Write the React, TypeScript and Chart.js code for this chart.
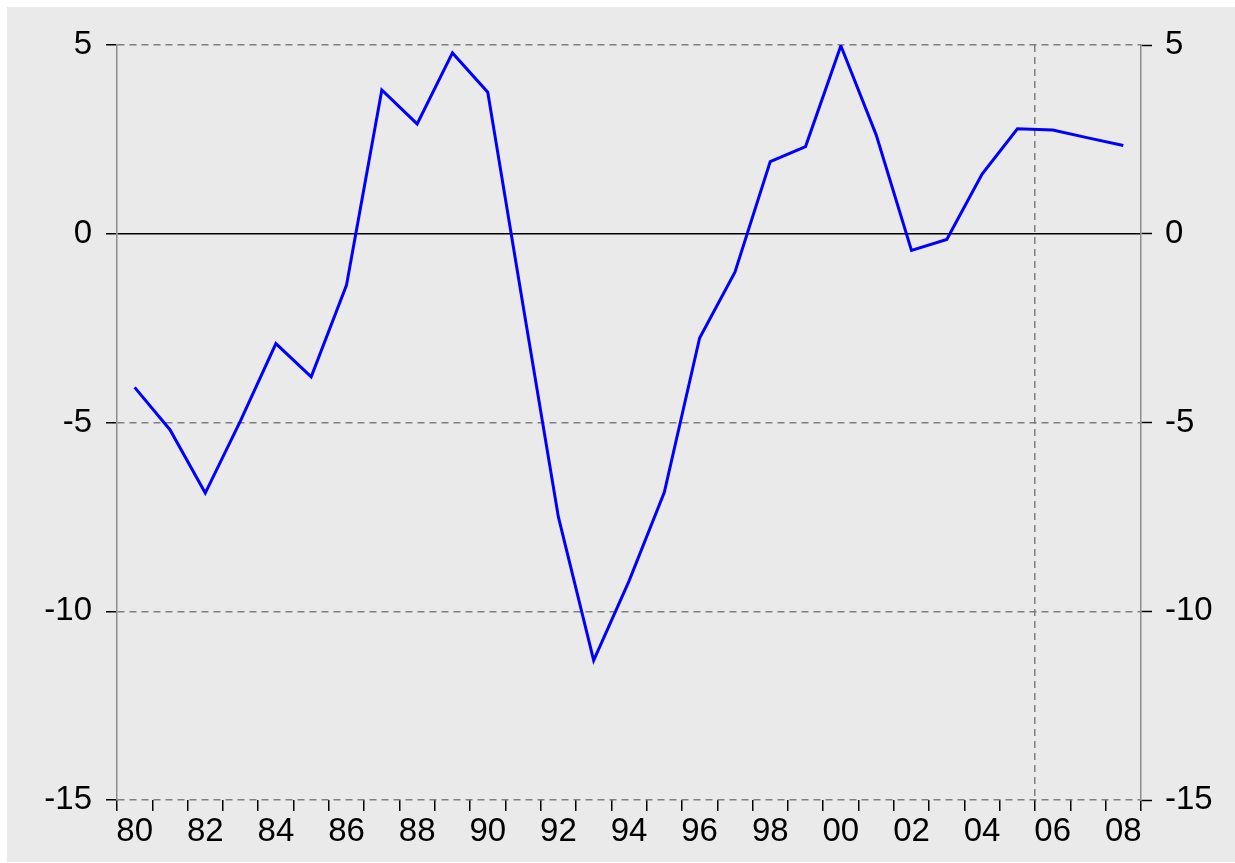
import React, { useEffect, useRef } from 'react';
import { Chart, registerables } from 'chart.js';

Chart.register(...registerables);

const yearLabels = [
  '80', '81', '82', '83', '84', '85', '86', '87', '88', '89',
  '90', '91', '92', '93', '94', '95', '96', '97', '98', '99',
  '00', '01', '02', '03', '04', '05', '06', '07', '08',
];

const values = [
  -4.07, -5.19, -6.87, -4.95, -2.91, -3.79, -1.36, 3.81, 2.91, 4.79,
  3.75, -1.9, -7.5, -11.3, -9.2, -6.85, -2.76, -1.02, 1.91, 2.31,
  4.98, 2.62, -0.44, -0.15, 1.58, 2.78, 2.75, 2.54, 2.34,
];

const yMin = -15;
const yMax = 5;
const yStep = 5;
const markerIndex = 26; // boundary before '06

export default function App() {
  const ref = useRef<HTMLCanvasElement>(null);

  useEffect(() => {
    const font = { family: '"Liberation Sans", Arial, Helvetica, sans-serif', size: 33 };
    const gridGray = '#7f7f7f';
    const axisGray = '#8c8c8c';
    const chart = new Chart(ref.current as HTMLCanvasElement, {
      type: 'line',
      data: {
        labels: yearLabels,
        datasets: [
          {
            data: values,
            borderColor: '#0000ff',
            borderWidth: 3,
            pointRadius: 0,
            tension: 0,
            fill: false,
          },
        ],
      },
      options: {
        animation: false,
        responsive: false,
        maintainAspectRatio: false,
        devicePixelRatio: 1,
        layout: { padding: { top: 38, left: 0, right: 0, bottom: 0 } },
        plugins: { legend: { display: false }, tooltip: { enabled: false } },
        scales: {
          x: {
            type: 'category',
            offset: true,
            grid: {
              offset: true,
              drawOnChartArea: true,
              color: (c: any) => (c.index === markerIndex ? gridGray : 'rgba(0,0,0,0)'),
              lineWidth: 1.5,
              tickColor: '#000',
              tickLength: 11,
              tickWidth: 1.5,
            },
            border: { display: false, dash: [7, 5] },
            ticks: {
              autoSkip: false,
              maxRotation: 0,
              minRotation: 0,
              color: '#000',
              font,
              padding: 1,
              callback: (_v: any, i: number) => (i % 2 === 0 ? yearLabels[i] : ''),
            },
            afterFit: (s: any) => {
              s.height = 62;
            },
          },
          y: {
            position: 'left',
            min: yMin,
            max: yMax,
            ticks: { stepSize: yStep, color: '#000', font, padding: 14 },
            grid: {
              drawOnChartArea: true,
              color: (c: any) => (c.tick && c.tick.value === 0 ? '#000' : gridGray),
              lineWidth: 1.5,
              tickColor: '#000',
              tickLength: 11,
              tickWidth: 1.5,
            },
            border: {
              display: true,
              color: axisGray,
              width: 1.5,
              dash: (c: any) => (c.tick && c.tick.value !== 0 ? [7, 5] : []),
            },
            afterFit: (s: any) => {
              s.width = 110;
            },
          },
          y2: {
            position: 'right',
            min: yMin,
            max: yMax,
            ticks: { stepSize: yStep, color: '#000', font, padding: 13 },
            grid: {
              drawOnChartArea: false,
              tickColor: '#000',
              tickLength: 11,
              tickWidth: 1.5,
            },
            border: { display: true, color: axisGray, width: 1.5 },
            afterFit: (s: any) => {
              s.width = 94;
            },
          },
        },
      },
    });
    return () => chart.destroy();
  }, []);

  return (
    <div
      style={{
        position: 'absolute',
        left: 7,
        top: 7,
        width: 1228,
        height: 855,
        background: '#eaeaea',
      }}
    >
      <canvas ref={ref} width={1228} height={855} style={{ display: 'block' }} />
    </div>
  );
}
